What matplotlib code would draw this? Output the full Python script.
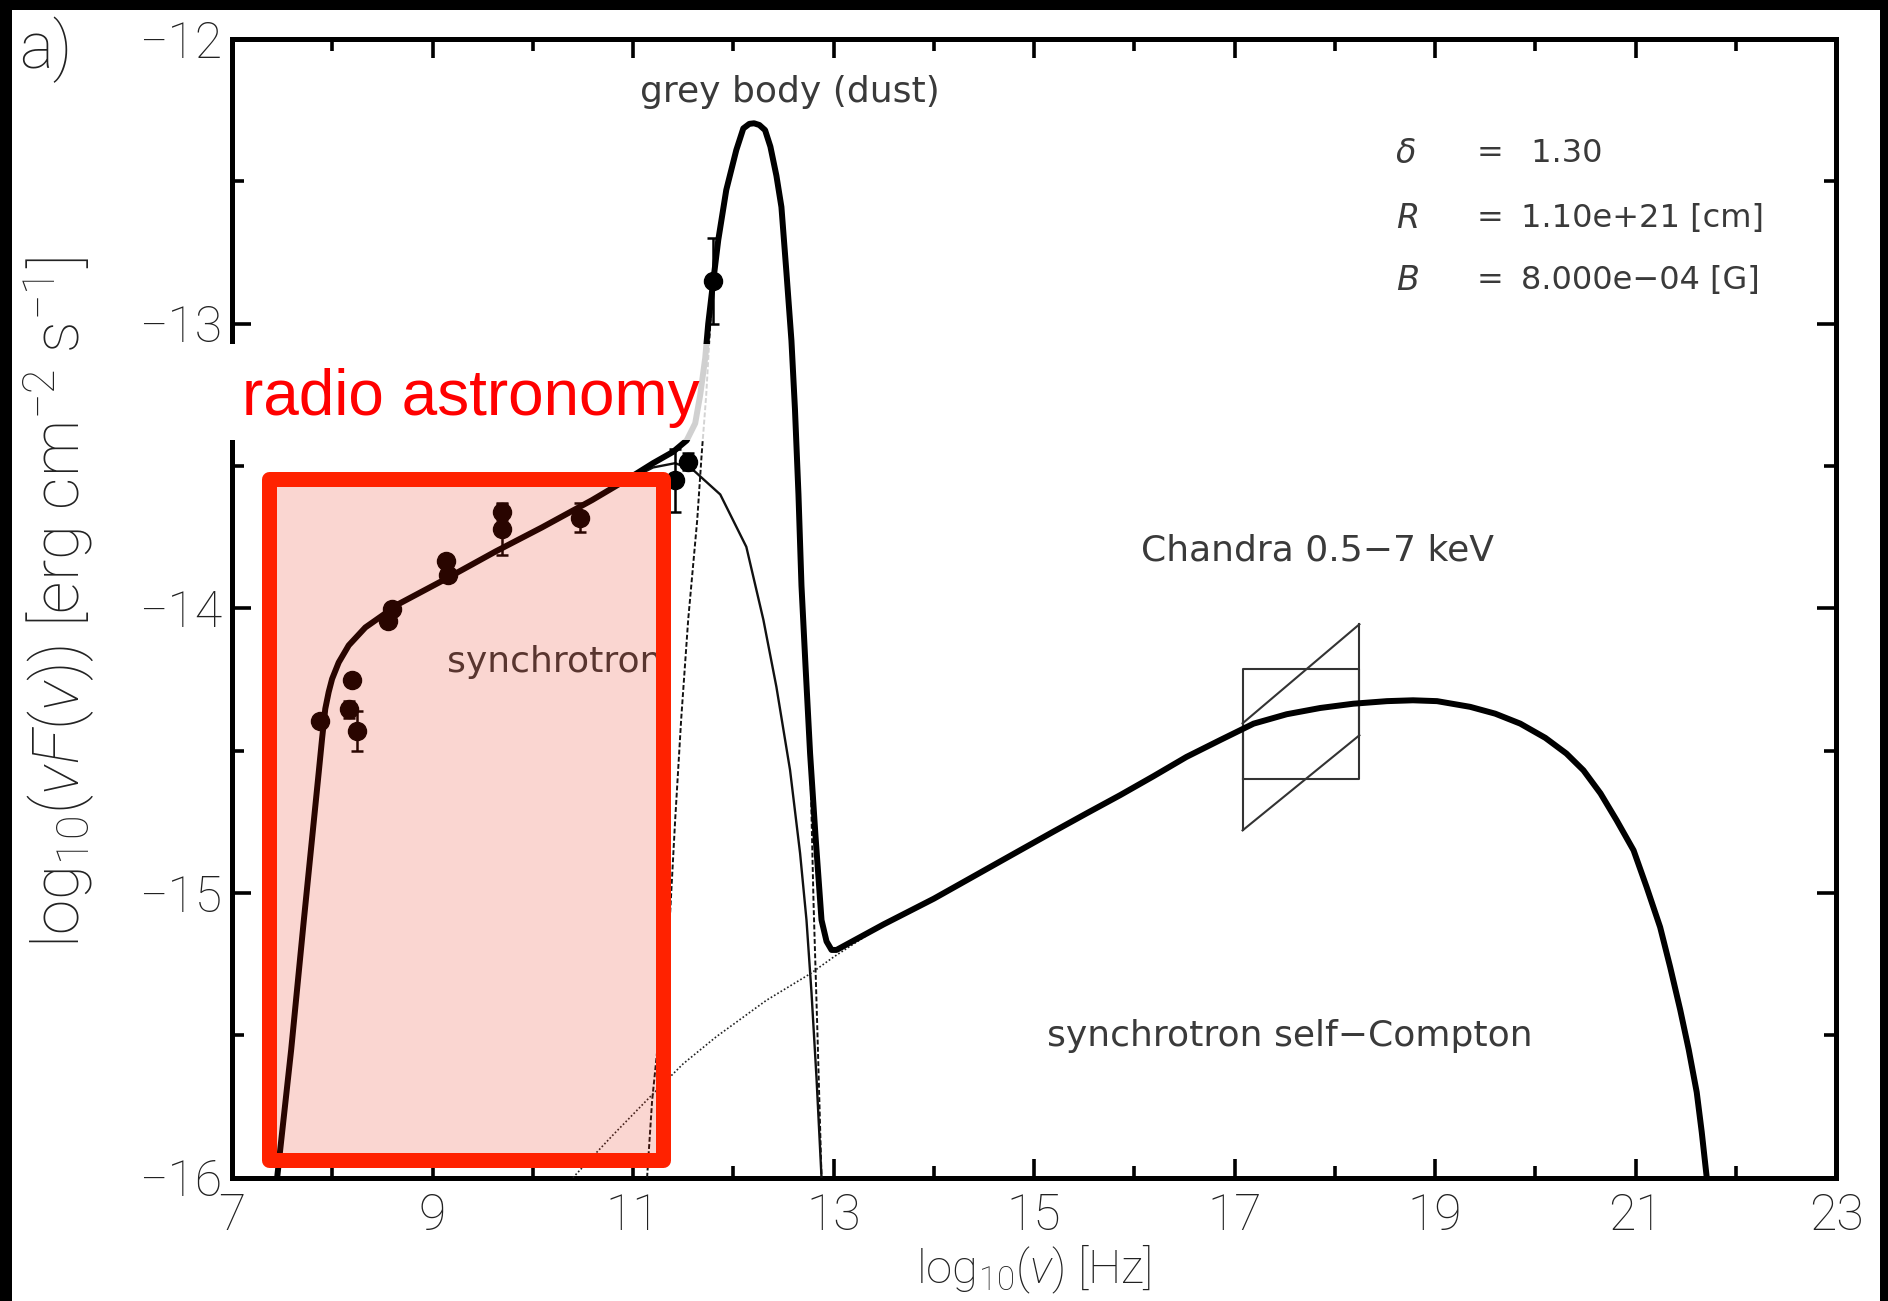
import numpy as np
import matplotlib
matplotlib.use('Agg')
import matplotlib.pyplot as plt
from matplotlib.patches import Rectangle

plt.rcParams['font.family'] = ['Roboto', 'DejaVu Sans']
plt.rcParams['font.weight'] = 'light'
plt.rcParams['axes.labelweight'] = 'light'
plt.rcParams['mathtext.fontset'] = 'custom'
plt.rcParams['mathtext.rm'] = 'Roboto:light'
plt.rcParams['mathtext.it'] = 'Roboto:italic:light'
plt.rcParams['mathtext.bf'] = 'Roboto:bold'

# -------------------------------------------------------------------
# model curves (log10 nu, log10 nuFnu)
tot_x = [7.45, 7.59, 7.715, 7.765, 7.815, 7.865, 7.898, 7.93, 7.964, 7.998,
         8.064, 8.164, 8.33, 8.496, 8.66, 9.13, 9.63, 10.09, 10.59, 10.95,
         11.20, 11.40, 11.535, 11.62, 11.67, 11.72, 11.75, 11.80, 11.85, 11.93,
         12.03, 12.10, 12.16, 12.207, 12.26, 12.317, 12.37, 12.43, 12.48, 12.53,
         12.58, 12.615, 12.65, 12.68, 12.72, 12.766, 12.82, 12.88, 12.93, 12.98,
         13.03, 13.50, 14.00, 14.86, 15.19, 15.525, 15.86, 16.19, 16.52, 16.855,
         17.19, 17.52, 17.855, 18.185, 18.52, 18.78, 19.02, 19.35, 19.60, 19.85,
         20.10, 20.31, 20.48, 20.65, 20.81, 20.98, 21.11, 21.245, 21.345,
         21.445, 21.53, 21.61, 21.66, 21.71]
tot_y = [-16.0, -15.55, -15.1, -14.925, -14.75, -14.575, -14.458, -14.353,
         -14.294, -14.248, -14.19, -14.13, -14.067, -14.026, -13.985, -13.897,
         -13.80, -13.716, -13.62, -13.545, -13.49, -13.45, -13.41, -13.35, -13.25,
         -13.12, -13.0, -12.85, -12.706, -12.53, -12.39, -12.314, -12.298,
         -12.296, -12.302, -12.32, -12.378, -12.48, -12.59, -12.82, -13.06, -13.3,
         -13.6, -13.92, -14.2, -14.51, -14.8, -15.095, -15.17, -15.2, -15.2,
         -15.11, -15.02, -14.85, -14.785, -14.72, -14.656, -14.59, -14.522,
         -14.463, -14.405, -14.372, -14.350, -14.335, -14.326, -14.323, -14.326,
         -14.346, -14.37, -14.405, -14.455, -14.51, -14.569, -14.65, -14.744,
         -14.85, -14.979, -15.12, -15.26, -15.41, -15.55, -15.70, -15.84, -16.0]

syn_x = [7.45, 7.59, 7.715, 7.815, 7.865, 7.93, 7.998, 8.064, 8.164, 8.33,
         8.496, 8.66, 9.13, 9.63, 10.09, 10.59, 10.95, 11.20, 11.42, 11.60,
         11.87, 12.13, 12.30, 12.43, 12.566, 12.666, 12.73, 12.78, 12.83, 12.88]
syn_y = [-16.0, -15.55, -15.1, -14.75, -14.575, -14.353, -14.248, -14.19,
         -14.13, -14.067, -14.026, -13.985, -13.897, -13.80, -13.716, -13.62,
         -13.55, -13.505, -13.49, -13.514, -13.60, -13.784, -14.04, -14.276,
         -14.568, -14.86, -15.095, -15.35, -15.65, -16.0]

dust_x = [11.14, 11.19, 11.28, 11.37, 11.42, 11.48, 11.55, 11.64, 11.685,
          11.73, 11.77, 11.81, 11.86, 11.93, 12.03, 12.10, 12.16, 12.207, 12.26,
          12.317, 12.37, 12.43, 12.48, 12.53, 12.58, 12.615, 12.65, 12.68, 12.72,
          12.766, 12.80, 12.84, 12.88]
dust_y = [-16.0, -15.73, -15.42, -15.07, -14.744, -14.39, -14.04, -13.69,
          -13.456, -13.25, -13.0, -12.85, -12.706, -12.53, -12.39, -12.314,
          -12.298, -12.296, -12.302, -12.32, -12.378, -12.48, -12.59, -12.82,
          -13.06, -13.3, -13.6, -13.92, -14.2, -14.51, -15.03, -15.5, -16.0]

ssc_x = [10.40, 10.80, 11.17, 11.50, 11.83, 12.33, 12.77, 13.00, 13.50, 14.00]
ssc_y = [-16.0, -15.85, -15.716, -15.60, -15.505, -15.377, -15.283, -15.225,
         -15.11, -15.02]

# observed points
obs_x = [7.88, 8.17, 8.20, 8.25, 8.56, 8.60, 9.13, 9.155, 9.69, 9.69, 10.47,
         11.42, 11.55, 11.80]
obs_y = [-14.397, -14.355, -14.25, -14.43, -14.043, -14.002, -13.833, -13.883,
         -13.661, -13.722, -13.681, -13.55, -13.485, -12.85]
obs_e = [0.02, 0.03, 0.02, 0.07, 0.02, 0.02, 0.02, 0.02, 0.03, 0.09, 0.05,
         0.11, 0.03, 0.15]

# Chandra 0.5-7 keV bow tie
bt_x = [17.08, 18.245]
bt_box = [-14.598, -14.214]
bt_up = [-14.404, -14.056]
bt_lo = [-14.78, -14.446]

params = [('\u03b4', '=', ' 1.30', -12.402),
          ('R', '=', '1.10e+21 [cm]', -12.629),
          ('B', '=', '8.000e\u221204 [G]', -12.847)]

# -------------------------------------------------------------------
fig = plt.figure(figsize=(18.88, 13.01), dpi=100)
ax = fig.add_axes([0.1229, 0.0948, 0.8496, 0.8752])

ax.plot(tot_x, tot_y, color='black', lw=4.3, solid_joinstyle='round', zorder=4)
ax.plot(syn_x, syn_y, color='#111111', lw=1.7, zorder=3)
ax.plot(dust_x, dust_y, color='#111111', lw=1.4, ls=(0, (2.5, 1.2)), zorder=3)
ax.plot(ssc_x, ssc_y, color='#222222', lw=1.2, ls=(0, (1, 1.3)), zorder=3)

ax.errorbar(obs_x, obs_y, yerr=obs_e, fmt='o', color='black', ms=13,
            elinewidth=1.8, capsize=4, capthick=1.8, zorder=5)

# bow tie
bc = '#333333'
ax.plot([bt_x[0], bt_x[1], bt_x[1], bt_x[0], bt_x[0]],
        [bt_box[0], bt_box[0], bt_box[1], bt_box[1], bt_box[0]],
        color=bc, lw=1.5, zorder=3)
ax.plot(bt_x, bt_up, color=bc, lw=1.5, zorder=3)
ax.plot(bt_x, bt_lo, color=bc, lw=1.5, zorder=3)
ax.plot([bt_x[0], bt_x[0]], [bt_lo[0], bt_up[0]], color=bc, lw=1.5, zorder=3)
ax.plot([bt_x[1], bt_x[1]], [bt_lo[1], bt_up[1]], color=bc, lw=1.5, zorder=3)

# labels in plot
tc = '#3a3a3a'
dv = ['DejaVu Sans']
ax.text(12.566, -12.185, 'grey body (dust)', fontsize=26, color=tc, family=dv,
        fontweight='normal', ha='center', va='center')
ax.text(9.145, -14.188, 'synchrotron', fontsize=26, color=tc, family=dv,
        fontweight='normal', ha='left', va='center', zorder=2)
ax.text(17.83, -13.796, 'Chandra 0.5\u22127 keV', fontsize=26, color=tc, family=dv,
        fontweight='normal', ha='center', va='center')
ax.text(17.55, -15.503, 'synchrotron self\u2212Compton', fontsize=26, color=tc,
        family=dv, fontweight='normal', ha='center', va='center')
for sym, eq, val, yy in params:
    ax.text(18.61, yy, sym, fontsize=24, color=tc, family=dv, fontweight='normal',
            style='italic', ha='left', va='center')
    ax.text(19.41, yy, eq, fontsize=23, color=tc, family=dv, fontweight='normal',
            ha='left', va='center')
    ax.text(19.86, yy, val, fontsize=23, color=tc, family=dv, fontweight='normal',
            ha='left', va='center')

ax.set_xlim(7, 23)
ax.set_ylim(-16, -12)
ax.set_xticks(np.arange(7, 24, 2))
ax.set_xticks(np.arange(8, 23, 2), minor=True)
ax.set_yticks(np.arange(-16, -11.5, 1))
ax.set_yticks(np.arange(-15.5, -12, 1), minor=True)
ax.tick_params(which='both', direction='in', top=True, right=True, width=2.6,
               colors='black', labelcolor='#222222')
ax.tick_params(which='major', length=13.5, labelsize=36)
ax.tick_params(axis='x', which='major', pad=11)
ax.tick_params(axis='y', which='major', pad=7)
ax.tick_params(which='minor', length=8.5)
for s in ax.spines.values():
    s.set_linewidth(3.6)

ax.set_xlabel(r'log$_{10}$($\nu$) [Hz]', fontsize=34, color='#222222')
ax.xaxis.set_label_coords(0.5, -0.057)
ax.set_ylabel(r'log$_{10}$($\nu F(\nu)$) [erg cm$^{-2}$ s$^{-1}$]', fontsize=46,
              color='#222222')
ax.yaxis.set_label_coords(-0.084, 0.505)

# red highlight box
box = Rectangle((7.364, -15.937), 11.294 - 7.364, -13.544 + 15.937,
                facecolor=(0.9, 0.12, 0.0, 0.18), edgecolor='#ff2200', lw=10.8,
                joinstyle='round', zorder=10, clip_on=False)
ax.add_patch(box)

# white band + red label
ax.add_patch(Rectangle((6.95, -13.409), 11.35 - 6.95, 0.337, facecolor='white',
                       edgecolor='none', zorder=20, clip_on=False))
ax.add_patch(Rectangle((11.35, -13.409), 11.79 - 11.35, 0.337, facecolor='white',
                       alpha=0.82, edgecolor='none', zorder=20, clip_on=False))
ax.text(7.10, -13.32, 'radio astronomy', fontsize=46, color='#ff0000',
        family=['Liberation Sans', 'DejaVu Sans'], fontweight='normal',
        ha='left', va='baseline', zorder=21)

fig.text(0.010, 1 - 50 / 1301., 'a)', fontsize=46, color='#222222', ha='left', va='center')

# black frame edges of the screenshot
for (x0, y0, w, h) in [(0, 0, 12 / 1888., 1), (0, 1 - 10 / 1301., 1, 10 / 1301.),
                       (1880 / 1888., 0, 8 / 1888., 1)]:
    fig.add_artist(Rectangle((x0, y0), w, h, transform=fig.transFigure,
                             facecolor='black', edgecolor='none', zorder=100))

fig.savefig('out.png', dpi=100)
